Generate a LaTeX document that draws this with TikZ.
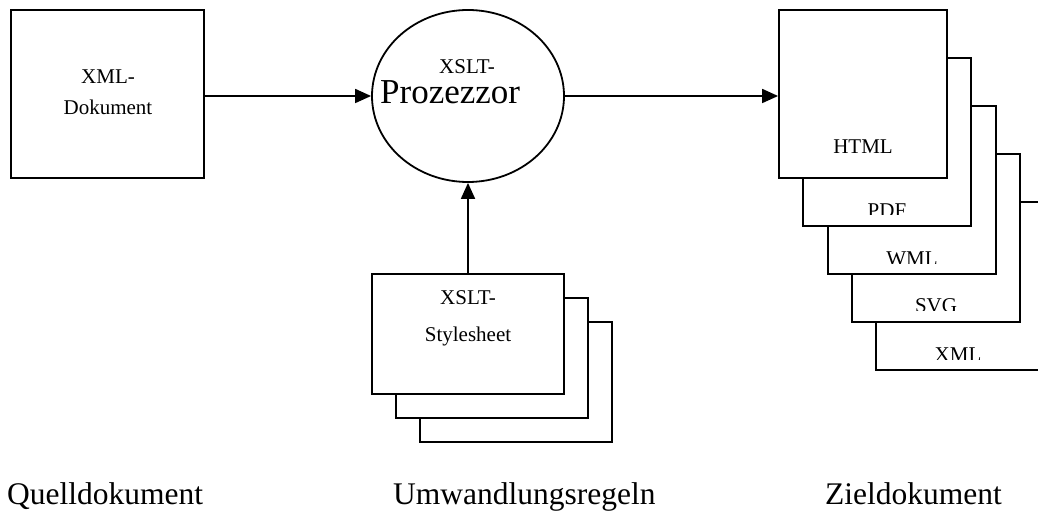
\documentclass[tikz,border=0pt]{standalone}
\usepackage{fontspec}
\setmainfont{Liberation Serif}
\usetikzlibrary{arrows.meta,shapes.geometric}

\begin{document}
\begin{tikzpicture}[x=1bp,y=-1bp,
  doc/.style={draw, line width=1.8bp, fill=white, rectangle, inner sep=0pt},
  outbox/.style={doc, minimum width=168bp, minimum height=168bp},
  sheetbox/.style={doc, minimum width=192bp, minimum height=120bp},
  lbl/.style={inner sep=0pt, anchor=base, font=\fontsize{21bp}{25bp}\selectfont},
  biglbl/.style={inner sep=0pt, anchor=base, font=\fontsize{35bp}{40bp}\selectfont},
  caption/.style={inner sep=0pt, anchor=base west, font=\fontsize{31.5bp}{36bp}\selectfont},
  flow/.style={line width=1.8bp, -{Triangle[length=16bp,width=14bp]}}]

\clip (0,0) rectangle (1038,512);
\fill[white] (0,0) rectangle (1038,512);

% source document
\node[doc, minimum width=193bp, minimum height=168bp] (src) at (107.5,94) {};
\node[lbl] (srcA) at (108,84) {XML-};
\node[lbl] (srcB) at (108,115) {Dokument};

% processor
\node[draw, line width=1.8bp, ellipse, inner sep=0pt,
      minimum width=192bp, minimum height=172bp] (proc) at (468,96) {};
\node[lbl] (procA) at (467,74) {XSLT-};
\node[biglbl, anchor=base west] (procB) at (380,104) {Prozezzor};

% stylesheet stack, drawn back to front
\node[sheetbox] (sheet3) at (516,382) {};
\node[sheetbox] (sheet2) at (492,358) {};
\node[sheetbox] (sheet1) at (468,334) {};
\node[lbl] (sheetA) at (468,305) {XSLT-};
\node[lbl] (sheetB) at (468,342) {Stylesheet};

% target documents, drawn back to front; their labels are cut off at the bottom
\node[outbox] (xmlout) at (960,286) {};
\begin{scope}
  \clip (880,330) rectangle (1038,359.5);
  \node[lbl] (xmllbl) at (958,362) {XML};
\end{scope}
\node[outbox] (svg) at (936,238) {};
\begin{scope}
  \clip (856,285) rectangle (1018,310.5);
  \node[lbl] (svglbl) at (936,313) {SVG};
\end{scope}
\node[outbox] (wml) at (912,190) {};
\begin{scope}
  \clip (832,235) rectangle (994,264);
  \node[lbl] (wmllbl) at (912,266) {WML};
\end{scope}
\node[outbox] (pdf) at (887,142) {};
\begin{scope}
  \clip (806,190) rectangle (969,215);
  \node[lbl] (pdflbl) at (887,218) {PDF};
\end{scope}
\node[outbox] (html) at (863,94) {};
\node[lbl] (htmllbl) at (863,154) {HTML};

% connectors
\draw[flow] (src.east |- proc.west) -- (proc.west);
\draw[flow] (proc.east) -- (proc.east -| html.west);
\draw[flow] (sheet1.north) -- (proc.south);

% captions
\node[caption] (capA) at (7,504) {Quelldokument};
\node[caption] (capB) at (393,504) {Umwandlungsregeln};
\node[caption] (capC) at (825,504) {Zieldokument};
\end{tikzpicture}
\end{document}
